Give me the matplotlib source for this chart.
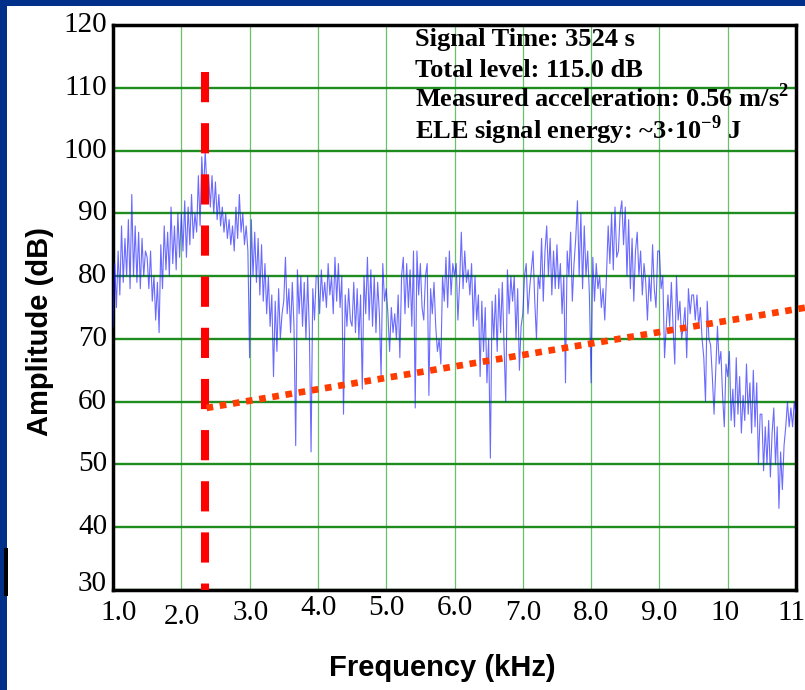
import numpy as np
import matplotlib.pyplot as plt
from matplotlib.patches import Rectangle

plt.rcParams['font.family'] = ['Liberation Serif', 'DejaVu Serif']
plt.rcParams['mathtext.fontset'] = 'custom'
plt.rcParams['mathtext.rm'] = 'Liberation Serif'
plt.rcParams['mathtext.bf'] = 'Liberation Serif:bold'

# spectrum, one row per 0.5 kHz (step 0.025 kHz)
amplitude_db = [
    72, 82, 75, 84, 77, 88, 79, 86, 80, 89, 78, 93, 80, 88, 79, 87, 78, 86, 80, 84,
    83, 78, 84, 76, 80, 73, 79, 71, 85, 78, 88, 81, 87, 80, 91, 82, 88, 81, 90, 83,
    90, 84, 92, 83, 91, 85, 93, 86, 90, 87, 96, 88, 99, 93, 100, 94, 96, 91, 96, 90,
    95, 89, 93, 88, 91, 87, 90, 86, 89, 85, 88, 84, 91, 86, 93, 87, 90, 85, 88, 84,
    67, 89, 80, 87, 79, 86, 77, 85, 76, 82, 74, 80, 72, 77, 64, 76, 68, 78, 70, 74,
    76, 83, 74, 78, 71, 79, 72, 53, 81, 74, 80, 72, 79, 70, 80, 71, 52, 78, 73, 80,
    80, 74, 81, 76, 79, 75, 82, 77, 80, 74, 83, 76, 82, 75, 80, 58, 77, 72, 78, 73,
    72, 79, 71, 78, 70, 77, 62, 80, 74, 83, 73, 81, 72, 80, 71, 79, 74, 64, 82, 76,
    78, 74, 68, 75, 71, 74, 70, 77, 67, 80, 83, 74, 82, 75, 81, 72, 84, 59, 84, 77,
    82, 75, 73, 80, 82, 61, 78, 74, 79, 72, 68, 70, 66, 80, 76, 83, 75, 84, 77, 82,
    80, 82, 73, 79, 87, 78, 84, 79, 81, 77, 82, 72, 80, 73, 77, 64, 76, 68, 75, 63,
    70, 51, 76, 70, 77, 68, 78, 71, 79, 69, 60, 81, 74, 80, 76, 80, 70, 78, 65, 72,
    74, 80, 82, 74, 78, 81, 84, 76, 70, 80, 78, 86, 76, 84, 88, 80, 86, 77, 84, 78,
    85, 78, 82, 74, 80, 63, 84, 80, 87, 76, 82, 86, 92, 80, 90, 78, 88, 80, 84, 77,
    63, 83, 76, 82, 78, 80, 75, 78, 73, 80, 88, 82, 90, 81, 91, 83, 84, 90, 92, 85,
    91, 80, 89, 78, 86, 76, 84, 87, 80, 84, 77, 82, 79, 73, 80, 76, 85, 78, 75, 84,
    84, 78, 80, 67, 72, 77, 72, 79, 72, 66, 80, 73, 76, 70, 72, 75, 67, 78, 74, 77,
    77, 73, 77, 72, 75, 70, 67, 60, 76, 70, 69, 64, 58, 65, 72, 66, 68, 61, 56, 66,
    64, 68, 57, 62, 56, 67, 58, 64, 55, 61, 57, 66, 58, 63, 55, 65, 56, 63, 50, 58,
    58, 49, 56, 50, 57, 48, 55, 59, 50, 56, 43, 52, 46, 53, 56, 60, 56, 59, 56, 60,
    58,
]
freq_khz = np.linspace(1.0, 11.0, len(amplitude_db))

marker_khz = 2.35
marker_db = [112.5, 30]
threshold_khz = [2.37, 11.15]
threshold_db = [59.0, 75.0]

xtick_vals = [1, 2, 3, 4, 5, 6, 7, 8, 9, 10, 11]
xtick_text = ['1.0', '2.0', '3.0', '4.0', '5.0', '6.0', '7.0', '8.0', '9.0', '10', '11']
# small offsets (px) of the tick labels as they sit in the original
xtick_dx = [6, 1, 1, 1, 0, 0, 0, 0, 0, -3, -5]
xtick_dy = [0, 4, 0, -5, -5, -5, 0, 0, 0, 0, 0]
ytick_vals = list(range(30, 121, 10))

info_lines = [
    'Signal Time: 3524 s',
    'Total level: 115.0 dB',
    r'Measured acceleration: 0.56 m/s$^{\mathbf{2}}$',
    r'ELE signal energy: ~3·10$^{\mathbf{-9}}$ J',
]

fig = plt.figure(figsize=(8.05, 6.9), dpi=100)
fig.patch.set_facecolor('#00308a')
fig.add_artist(Rectangle((7 / 805, 0), 1, 1 - 6 / 690, transform=fig.transFigure,
                         facecolor='white', edgecolor='none', zorder=0))
fig.add_artist(Rectangle((4 / 805, 1 - 596 / 690), 4 / 805, 48 / 690, transform=fig.transFigure,
                         facecolor='black', edgecolor='none', zorder=1))

ax = fig.add_axes([113 / 805, 1 - 590 / 690, 683 / 805, 565 / 690])
ax.set_facecolor('white')
ax.set_xlim(1.0, 11.0)
ax.set_ylim(30, 120)

ax.set_xticks(xtick_vals)
ax.set_xticklabels([])
ax.set_yticks(ytick_vals)
ax.set_yticklabels([])
ax.tick_params(length=0)

ax.set_axisbelow(True)
ax.yaxis.grid(True, color='#1f8c1f', lw=1.7)
ax.xaxis.grid(True, color='#6cc06c', lw=0.9)
for sp in ax.spines.values():
    sp.set_linewidth(2.5)
    sp.set_color('black')

ax.plot(freq_khz, amplitude_db, color='#1a1aff', lw=0.8, alpha=0.65, zorder=3)

ax.plot([marker_khz, marker_khz], marker_db, color='#ff0000', lw=5.8,
        dashes=(3.75, 2.6), solid_capstyle='butt', dash_capstyle='butt', zorder=4)
ax.plot(threshold_khz, threshold_db, color='#ff3c00', lw=4.8, dashes=(1, 1),
        dash_capstyle='butt', clip_on=False, zorder=4)

for yv in ytick_vals:
    dy = 6 if yv == 30 else 0
    ax.annotate(str(yv), (1.0, yv), xytext=(-6, dy), textcoords='offset pixels',
                ha='right', va='center', fontsize=21, annotation_clip=False)

for xv, txt, dx, dy in zip(xtick_vals, xtick_text, xtick_dx, xtick_dy):
    ax.annotate(txt, (xv, 30), xytext=(dx, -10 - dy), textcoords='offset pixels',
                ha='center', va='top', fontsize=21, annotation_clip=False)

line_db = [116.6, 111.7, 106.9, 101.9]
for txt, yv in zip(info_lines, line_db):
    ax.text(5.42, yv, txt, fontsize=19, fontweight='bold', ha='left', va='baseline')

fig.text(442 / 805, 1 - 668 / 690, 'Frequency (kHz)', fontsize=21, fontweight='bold',
         family='Liberation Sans', ha='center', va='center')
fig.text(40 / 805, 1 - 332 / 690, 'Amplitude (dB)', fontsize=21, fontweight='bold',
         family='Liberation Sans', rotation=90, ha='center', va='center')

fig.savefig('out.png', dpi=100, facecolor=fig.get_facecolor())
